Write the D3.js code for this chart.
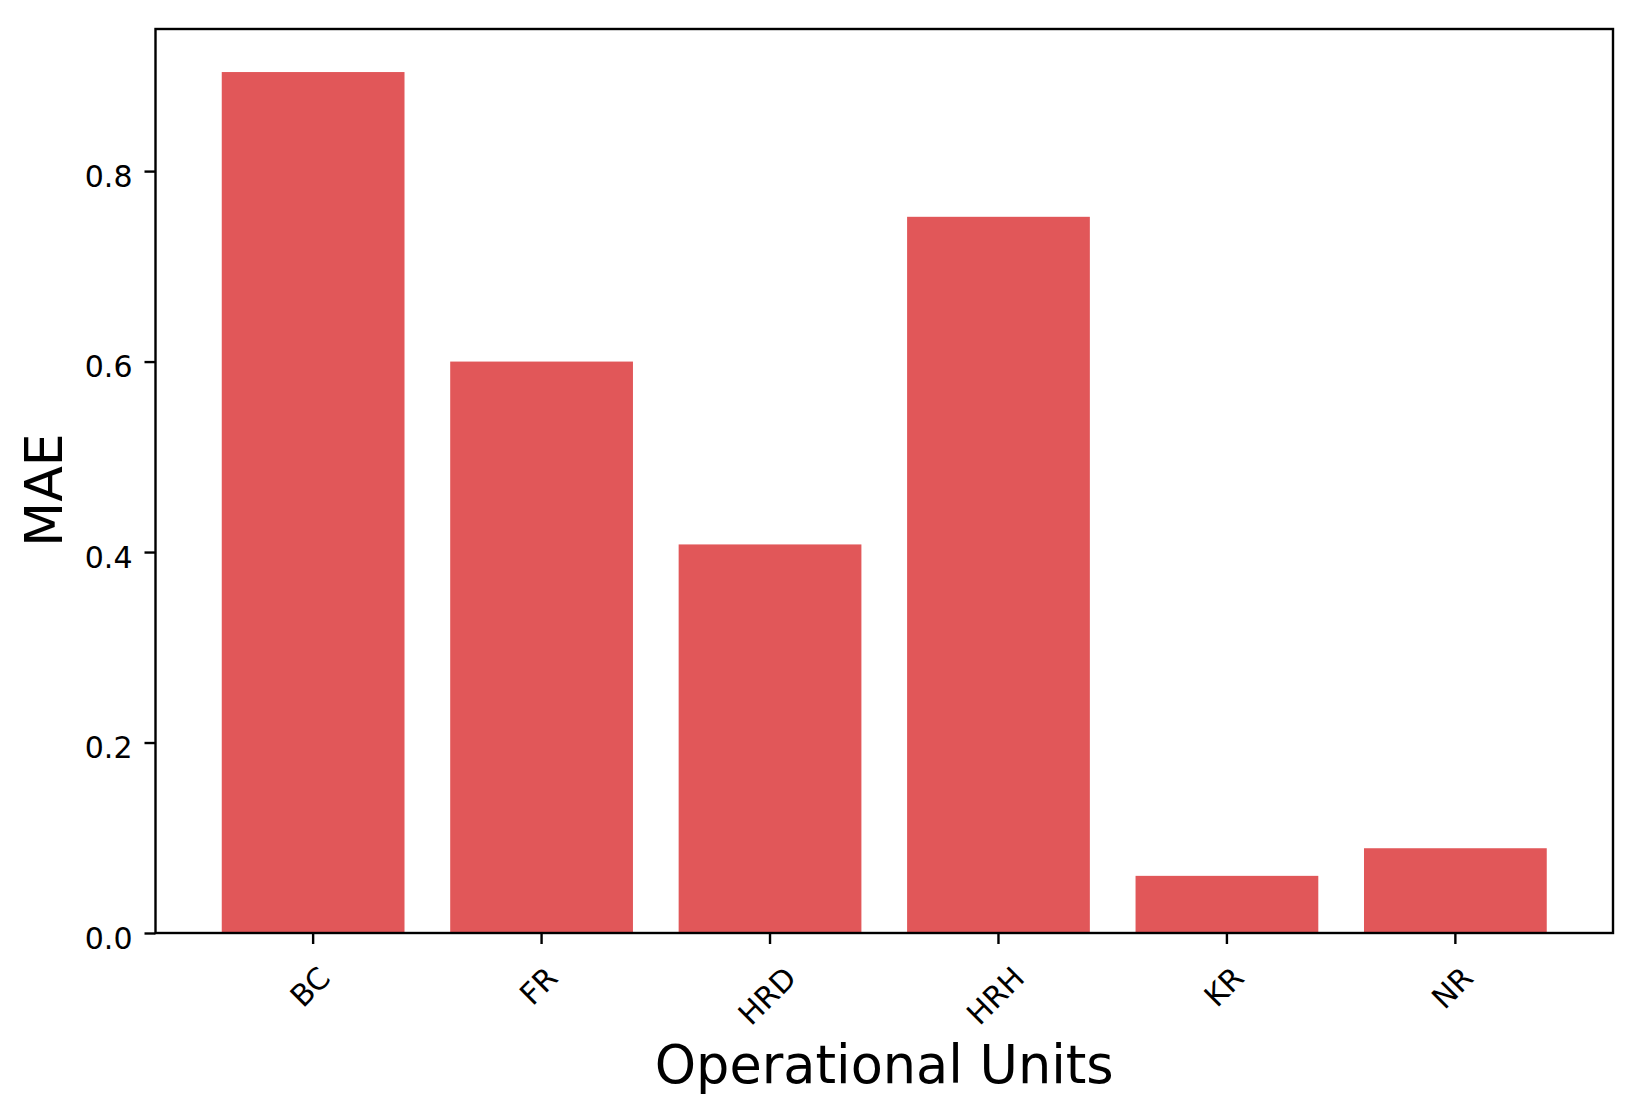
<!DOCTYPE html>
<html>
<head>
<meta charset="utf-8">
<script src="https://cdn.jsdelivr.net/npm/d3@7"></script>
<style>
  body { margin: 0; background: #fff; }
  svg text { font-family: "DejaVu Sans", sans-serif; fill: #000; }
</style>
</head>
<body>
<svg id="chart" width="1635" height="1103"></svg>
<script>

var units = ['BC', 'FR', 'HRD', 'HRH', 'KR', 'NR'];
var mae = [0.904, 0.600, 0.408, 0.752, 0.060, 0.089];
var y_ticks = [0.0, 0.2, 0.4, 0.6, 0.8];

var x_label = 'Operational Units';
var y_label = 'MAE';

var bar_color = '#e15759';

var margin = {top: 29, right: 22, bottom: 170, left: 155.5};
var width = 1635 - margin.left - margin.right;
var height = 1103 - margin.top - margin.bottom;

var svg = d3.select('#chart');

var g = svg.append('g')
    .attr('transform', 'translate(' + margin.left + ',' + margin.top + ')');

// matplotlib style: bar width 0.8, 5% margin on both axes
var x = d3.scaleBand()
    .domain(units)
    .range([0, width])
    .paddingInner(0.2)
    .paddingOuter(0.29);

var y = d3.scaleLinear()
    .domain([0, d3.max(mae) * 1.05])
    .range([height, 0]);

g.selectAll('.bar')
    .data(units)
    .enter().append('rect')
    .attr('class', 'bar')
    .attr('x', function(d) { return x(d); })
    .attr('width', x.bandwidth())
    .attr('y', function(d, i) { return y(mae[i]); })
    .attr('height', function(d, i) { return height - y(mae[i]); })
    .attr('fill', bar_color);

// y axis
var y_axis = g.append('g')
    .call(d3.axisLeft(y).tickValues(y_ticks).tickFormat(d3.format('.1f'))
          .tickSize(11).tickPadding(12));

y_axis.select('.domain').remove();
y_axis.selectAll('line').attr('stroke', '#000').attr('stroke-width', 2.4);
y_axis.selectAll('text')
    .attr('font-size', 30)
    .attr('dy', null)
    .attr('y', 15);

// x axis, labels rotated by hand
var x_axis = g.append('g')
    .attr('transform', 'translate(0,' + height + ')')
    .call(d3.axisBottom(x).tickSize(11).tickFormat(''));

x_axis.select('.domain').remove();
x_axis.selectAll('line').attr('stroke', '#000').attr('stroke-width', 2.4);

var label_top = 960 - margin.top - height;
var label_h = 30 * 1.17;

x_axis.selectAll('.tick').each(function(d) {

    var t = d3.select(this).append('text')
        .attr('font-size', 30)
        .attr('text-anchor', 'middle')
        .attr('dominant-baseline', 'central')
        .text(d);

    var w = t.node().getComputedTextLength();
    var cy = label_top + (w + label_h) * Math.SQRT1_2 / 2;

    t.attr('transform', 'translate(-3,' + cy + ') rotate(-45)');

});

// frame
g.append('rect')
    .attr('width', width)
    .attr('height', height)
    .attr('fill', 'none')
    .attr('stroke', '#000')
    .attr('stroke-width', 2.4);

svg.append('text')
    .attr('x', margin.left + width / 2)
    .attr('y', 1083)
    .attr('text-anchor', 'middle')
    .attr('font-size', 52.5)
    .text(x_label);

svg.append('text')
    .attr('transform', 'translate(62,490) rotate(-90)')
    .attr('text-anchor', 'middle')
    .attr('font-size', 52)
    .text(y_label);

</script>
</body>
</html>
